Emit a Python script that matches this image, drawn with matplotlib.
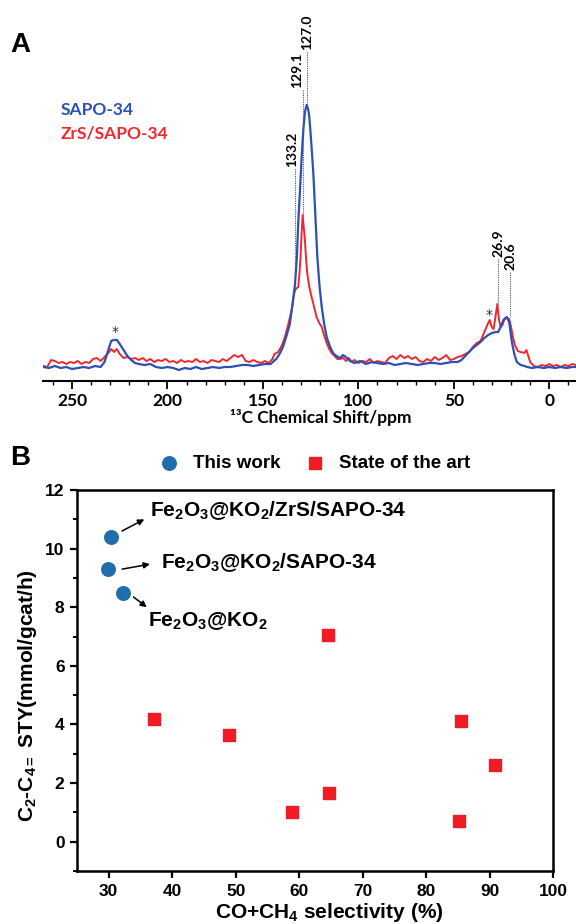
import matplotlib
matplotlib.use("Agg")
import matplotlib.pyplot as plt

plt.rcParams['mathtext.fontset'] = 'custom'
plt.rcParams['mathtext.rm'] = 'Liberation Sans:bold'
plt.rcParams['mathtext.it'] = 'Liberation Sans:bold'
plt.rcParams['mathtext.bf'] = 'Liberation Sans:bold'

# ---- panel A: 13C NMR spectra (intensity in arbitrary units)
sapo_ppm = [265, 262, 259, 256, 253, 250, 247, 244, 241, 238, 235, 233, 231, 229.5, 228, 226.5,
            225, 223, 221, 219, 217, 215, 212, 209, 206, 203, 200, 197, 194, 191, 188, 185, 182,
            179, 176, 173, 170, 167, 164, 161, 158, 155, 152, 149, 146, 143, 141, 139.5, 138, 136,
            134.5, 133.2, 132.2, 131.5, 130.5, 129.7, 128.8, 128, 127.1, 126.3, 125.7, 124.7, 123.6,
            122.5, 121.5, 120.3, 119.2, 118, 116.6, 115, 113.3, 111.5, 109.6, 108, 106, 104.4, 102,
            99, 96, 93, 90, 87, 84, 81, 78, 75, 72, 69, 66, 63, 60, 57, 54, 51, 48, 46, 44, 42, 40,
            38, 36, 34, 32, 30, 28, 26.8, 25.5, 24, 22.3, 21, 19.5, 18.2, 17, 15, 13, 11.6, 9, 6, 3,
            0, -3, -6, -9, -12, -14]
sapo_int = [0, -1, 1, -1, 0, -2, -1, 0, -1, 1, 0, 5, 17, 26, 27, 27,
            23, 17, 11, 7, 4, 3, 2, 3, 0, -1, 0, -1, -3, -1, -2, 0, -2,
            -1, 0, -1, 0, 0, 1, 2, 2, 1, 2, 3, 3, 8, 14, 20, 29, 42,
            62, 83, 110, 144, 180, 210, 238, 255, 262, 258, 250, 225, 194,
            150, 110, 80, 60, 44, 30, 21, 14, 11, 9, 12, 9, 6, 4,
            6, 3, 5, 4, 3, 4, 2, 3, 4, 3, 2, 3, 4, 4, 3, 4, 5, 5, 7, 11, 15, 19,
            22, 25, 29, 32, 34, 35, 35, 40, 47, 50, 45, 24, 12, 5, 2, 1, 0, -1, 0, -1,
            0, -1, 0, -1, 0, 0]

zrs_ppm = [265, 263, 261, 259, 257, 255, 253, 251, 249, 247, 245, 243, 241, 239, 237, 235, 233,
           231, 229.5, 228, 226.5, 225, 223, 221, 219, 217, 215, 213, 211, 209, 207, 205, 203,
           201, 199, 197, 195, 193, 191, 189, 187, 185, 183, 181, 179, 177, 175, 173, 171, 169,
           167, 165, 163, 161, 159, 157, 155, 153, 151, 149, 147, 145, 144, 142, 140, 138.5,
           136.8, 135, 134, 133.2, 132.2, 131.5, 130.8, 130.3, 129.7, 129.2, 128.6, 128, 127.4,
           126.8, 125.7, 124.5, 123.2, 121.9, 120.5, 119.2, 118, 116.6, 115.3, 114, 112.5, 111,
           109.6, 108, 106.5, 105, 103.5, 102, 100, 98, 96, 94, 92, 90, 88, 86, 84, 82, 80, 78,
           76, 74, 72, 70, 68, 66, 64, 62, 60, 58, 56, 54, 52, 50, 48, 46, 44, 42, 40, 38, 36,
           34, 32, 31.2, 30.2, 29.2, 28.2, 27.2, 26.4, 25.5, 24.5, 23.5, 22, 21, 20, 18.8, 18,
           16.5, 15, 13, 12, 11, 10, 8, 6, 4, 2, 0, -2, -4, -6, -8, -10, -12, -14]
zrs_int = [1, 0, 7, 6, 4, 5, 3, 5, 4, 6, 3, 5, 4, 8, 9, 6, 10,
           14, 18, 15, 18, 13, 9, 10, 8, 9, 7, 9, 6, 8, 5, 7, 6,
           8, 5, 6, 4, 7, 5, 6, 5, 8, 5, 6, 4, 7, 6, 5, 8, 6,
           9, 12, 10, 12, 6, 5, 7, 5, 4, 6, 4, 8, 13, 15, 22, 30,
           42, 57, 70, 77, 79, 80, 95, 110, 135, 152, 140, 127, 108,
           94, 80, 70, 60, 50, 44, 40, 32, 24, 18, 14, 11, 8,
           8, 9, 6, 9, 5, 7, 4, 6, 5, 8, 4, 6, 5, 4, 9, 11, 8, 12,
           9, 11, 8, 10, 6, 5, 8, 6, 10, 7, 9, 12, 7, 8, 10, 11, 13, 15, 20, 24, 26,
           35, 44, 47, 40, 38, 50, 63, 48, 40, 42, 48, 49, 48, 40, 28, 22,
           16, 15, 14, 17, 11, 5, 1, 0, 2, 1, 3, 1, 2, 0, 2, 1, 3, 2]

peak_pos = [133.2, 129.1, 127.0, 26.9, 20.6]
peak_lbl = ["133.2", "129.1", "127.0", "26.9", "20.6"]
peak_top = [77, 152, 262, 63, 50]        # where each dotted line ends
lbl_x = [134.8, 132.2, 126.9, 26.8, 20.5]
lbl_y = [200, 279, 317, 110, 97]
star_x = [227.5, 31.6]
star_y = [35, 52]

# ---- panel B: STY vs CO+CH4 selectivity
this_x = [30.4, 29.9, 32.3]
this_y = [10.4, 9.3, 8.5]
art_x = [37.2, 49.0, 58.9, 64.7, 64.6, 85.5, 90.8, 85.2]
art_y = [4.2, 3.65, 1.0, 1.65, 7.05, 4.12, 2.6, 0.71]
cat_names = [r"Fe$_2$O$_3$@KO$_2$/ZrS/SAPO-34", r"Fe$_2$O$_3$@KO$_2$/SAPO-34", r"Fe$_2$O$_3$@KO$_2$"]
arrow_from = [(32.1, 10.6), (32.1, 9.3), (33.9, 8.35)]
arrow_to = [(35.6, 11.0), (36.5, 9.47), (36.0, 8.0)]
name_xy = [(36.5, 11.1), (38.2, 9.34), (36.2, 7.34)]

BLUE = "#2c50b4"
RED = "#f0282d"

fig = plt.figure(figsize=(5.76, 9.24), dpi=100)

# ---------------- panel A
ax1 = fig.add_axes([43 / 576, 1 - 381 / 924, 533 / 576, 371 / 924])
ax1.plot(zrs_ppm, zrs_int, color=RED, lw=1.4)
ax1.plot(sapo_ppm, sapo_int, color=BLUE, lw=1.6)
ax1.set_xlim(265.2, -14)
ax1.set_ylim(-14, 357)
for s in ["top", "right", "left"]:
    ax1.spines[s].set_visible(False)
ax1.spines["bottom"].set_linewidth(1.5)
ax1.set_yticks([])
ax1.set_xticks([250, 200, 150, 100, 50, 0])
ax1.set_xticks(range(260, -14, -10), minor=True)
ax1.tick_params(axis="x", which="major", length=6, width=1.3, pad=3)
ax1.tick_params(axis="x", which="minor", length=3, width=1.0)
for t in ax1.get_xticklabels():
    t.set_fontfamily("Lato")
    t.set_fontweight("bold")
    t.set_fontsize(12.5)
ax1.set_xlabel("¹³C Chemical Shift/ppm", family="Lato", weight="bold", fontsize=12.5)
ax1.xaxis.set_label_coords(0.522, -0.075)

for p, lab, top, lx, ly in zip(peak_pos, peak_lbl, peak_top, lbl_x, lbl_y):
    ax1.plot([p, p], [ly - 2, top], ls=(0, (1, 1)), color="#555555", lw=0.8)
    ax1.text(lx, ly, lab, rotation=90, ha="center", va="bottom",
             family="Lato", weight="bold", fontsize=10, clip_on=False)
for sx, sy in zip(star_x, star_y):
    ax1.text(sx, sy, "*", ha="center", va="center", fontsize=10, color="#333333")

ax1.text(0.034, 0.73, "SAPO-34", transform=ax1.transAxes, color=BLUE,
         family="Lato", weight="bold", fontsize=12.5, va="center")
ax1.text(0.034, 0.668, "ZrS/SAPO-34", transform=ax1.transAxes, color=RED,
         family="Lato", weight="bold", fontsize=12.5, va="center")
fig.text(10 / 576, 1 - 45 / 924, "A", family="Liberation Sans", weight="bold",
         fontsize=20, va="center")

# ---------------- panel B
ax2 = fig.add_axes([77 / 576, 1 - 871 / 924, 476 / 576, 381 / 924])
ax2.scatter(this_x, this_y, s=95, marker="o", color="#1f6ea9", label="This work", zorder=3)
ax2.scatter(art_x, art_y, s=70, marker="s", color="#ee1c25", label="State of the art", zorder=3)
ax2.set_xlim(25, 100)
ax2.set_ylim(-1, 12)
ax2.set_xticks(range(30, 101, 10))
ax2.set_yticks(range(0, 13, 2))
ax2.set_yticks(range(-1, 12, 2), minor=True)
for s in ax2.spines.values():
    s.set_linewidth(1.8)
ax2.tick_params(which="major", length=5, width=1.6, labelsize=12.5, pad=4)
ax2.tick_params(which="minor", length=3, width=1.4)
for t in ax2.get_xticklabels() + ax2.get_yticklabels():
    t.set_fontfamily("Liberation Sans")
    t.set_fontweight("bold")
ax2.set_xlabel(r"CO+CH$_4$ selectivity (%)", family="Liberation Sans", weight="bold",
               fontsize=15)
ax2.xaxis.set_label_coords(0.53, -0.08)
ax2.set_ylabel(r"C$_2$-C$_{4=}$ STY(mmol/gcat/h)", family="Liberation Sans", weight="bold",
               fontsize=15)
ax2.yaxis.set_label_coords(-0.08, 0.46)

for (x0, y0), (x1, y1), name, (tx, ty) in zip(arrow_from, arrow_to, cat_names, name_xy):
    ax2.annotate("", xy=(x1, y1), xytext=(x0, y0),
                 arrowprops=dict(arrowstyle="-|>", color="black", lw=1.1,
                                 mutation_scale=9, shrinkA=0, shrinkB=0))
    ax2.text(tx, ty, name, family="Liberation Sans", weight="bold", fontsize=15,
             va="baseline", ha="left")

ax2.legend(loc="center", bbox_to_anchor=(0.494, 1.071), ncol=2, frameon=False,
           prop={"family": "Liberation Sans", "weight": "bold", "size": 13.5},
           handletextpad=0.5, columnspacing=1.05, borderaxespad=0, handlelength=1.6)
fig.text(10 / 576, 1 - 458 / 924, "B", family="Liberation Sans", weight="bold",
         fontsize=20, va="center")

fig.savefig("out.png", dpi=100)
